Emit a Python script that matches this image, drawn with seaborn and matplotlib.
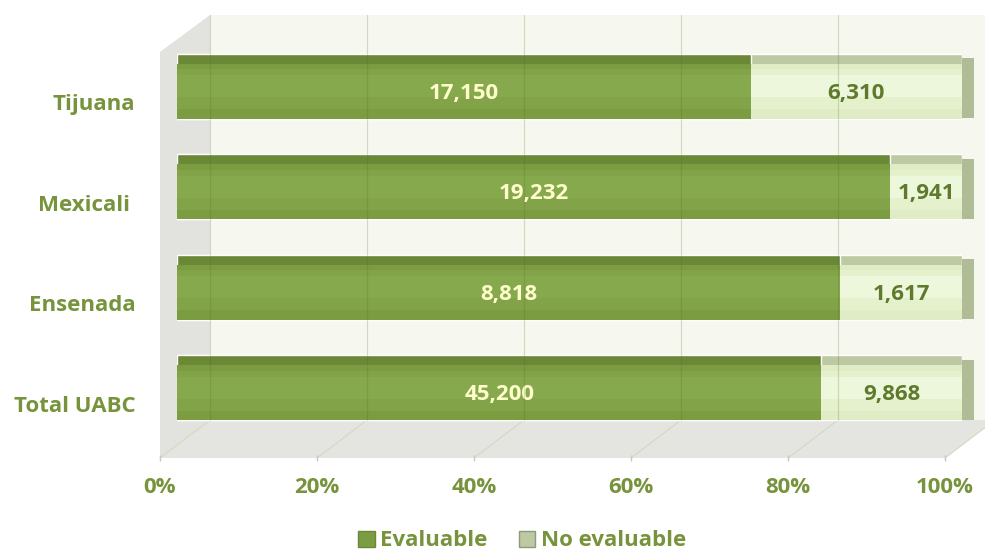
import numpy as np
import pandas as pd
import matplotlib
matplotlib.use("Agg")
import matplotlib.pyplot as plt
from matplotlib.patches import Polygon, Patch
from matplotlib.transforms import ScaledTranslation
import seaborn as sns

# data
campus = ["Tijuana", "Mexicali ", "Ensenada", "Total UABC"]
evaluable = [17150, 19232, 8818, 45200]
no_evaluable = [6310, 1941, 1617, 9868]
ticks = [0, 0.2, 0.4, 0.6, 0.8, 1.0]
tick_labels = ["0%", "20%", "40%", "60%", "80%", "100%"]

df = pd.DataFrame({"campus": campus, "ev": evaluable, "no": no_evaluable})
df["total"] = df["ev"] + df["no"]
df["p_ev"] = df["ev"] / df["total"]
df["p_all"] = 1.0

green = "#77933C"
dark_top = "#6A8836"
front = "#7C9C42"
mid = "#82A348"
shine = "#87A94D"
light_top = "#BCC9A3"
light_front = "#DFECC5"
light_mid = "#E5F1CD"
light_shine = "#EDF7DB"

sns.set_theme(style="white")
plt.rcParams["font.family"] = ["Open Sans", "DejaVu Sans"]
plt.rcParams["font.weight"] = "bold"

W, H = 985, 552
fig = plt.figure(figsize=(W / 100, H / 100), dpi=100)

# background walls / floor in pixel coordinates
bg = fig.add_axes([0, 0, 1, 1])
bg.set_xlim(0, W)
bg.set_ylim(H, 0)
bg.axis("off")
x0, scale = 177, 785  # pixel of 0% and pixels per 100% on the bar plane
back_dx, front_dx = 33, -17
y_top, y_back, y_front = 15, 420, 458
bg.add_patch(Polygon([(x0 + back_dx, y_top), (W + 10, y_top), (W + 10, y_back), (x0 + back_dx, y_back)],
                     closed=True, fc="#F6F8EF", ec="none"))
bg.add_patch(Polygon([(x0 + front_dx, 52), (x0 + back_dx, y_top), (x0 + back_dx, y_back), (x0 + front_dx, y_front)],
                     closed=True, fc="#E2E2DE", ec="none"))
bg.add_patch(Polygon([(x0 + front_dx, y_front), (x0 + front_dx + scale, y_front),
                      (x0 + back_dx + scale, y_back), (x0 + back_dx, y_back)],
                     closed=True, fc="#E4E4E0", ec="none"))
for t in ticks:
    xp = x0 + t * scale
    bg.plot([xp + front_dx, xp + back_dx], [y_front, y_back], color="#D3D9BF", lw=0.8)
    bg.plot([xp + front_dx], [y_front], marker="|", color="#C8C8C8", ms=4)

# bars
ax = fig.add_axes([x0 / W, 1 - 438 / H, scale / W, 402 / H])
ax.patch.set_alpha(0)
sns.barplot(data=df, x="p_all", y="campus", color=light_top, width=0.65,
            orient="h", ax=ax, saturation=1)
sns.barplot(data=df, x="p_ev", y="campus", color=dark_top, width=0.65,
            orient="h", ax=ax, saturation=1)
pos = np.arange(len(campus))
rest = df["p_all"] - df["p_ev"]
layers = [(0.05, 0.55, front, light_front), (0.03, 0.40, mid, light_mid), (0.0, 0.22, shine, light_shine)]
for off, h, c_ev, c_no in layers:
    ax.barh(pos + off, rest, left=df["p_ev"], height=h, color=c_no, lw=0)
    ax.barh(pos + off, df["p_ev"], height=h, color=c_ev, lw=0)
# end cap of each bar, sticking out past 100%
cap = ax.barh(pos + 0.02, 0.015, left=df["p_all"], height=0.6, color="#AFBC96", lw=0)
for b in cap:
    b.set_clip_on(False)

for i, r in df.iterrows():
    ax.text(r["p_ev"] / 2, i + 0.07, f"{r['ev']:,}", ha="center", va="center",
            color="#FFFFCC", fontsize=16, fontweight="bold")
    ax.text((r["p_ev"] + 1) / 2, i + 0.07, f"{r['no']:,}", ha="center", va="center",
            color="#5F7A2C", fontsize=16, fontweight="bold")

ax.set_xlim(0, 1)
ax.set_ylim(3.5, -0.5)
ax.set_xticks(ticks)
ax.set_xticklabels(tick_labels)
ax.set_xlabel("")
ax.set_ylabel("")
for s in ax.spines.values():
    s.set_visible(False)
ax.tick_params(axis="x", length=0, pad=28, labelsize=16, labelcolor=green)
ax.tick_params(axis="y", length=0, pad=30, labelsize=16, labelcolor=green)
for lab in ax.get_xticklabels():
    lab.set_fontweight("bold")
    lab.set_transform(lab.get_transform() + ScaledTranslation(-0.17, 0, fig.dpi_scale_trans))
for lab in ax.get_yticklabels():
    lab.set_fontweight("bold")
    lab.set_transform(lab.get_transform() + ScaledTranslation(0, -0.16, fig.dpi_scale_trans))

# back-wall gridlines, drawn over the bars so they show faintly through them
top = fig.add_axes([0, 0, 1, 1])
top.set_xlim(0, W)
top.set_ylim(H, 0)
top.axis("off")
top.patch.set_alpha(0)
for t in ticks:
    xp = x0 + t * scale + back_dx
    top.plot([xp, xp], [y_top, y_back], color="#4F6E22", lw=0.9, alpha=0.22)

# legend
handles = [Patch(fc=front, ec=dark_top, label="Evaluable"),
           Patch(fc=light_top, ec="#8E9A7A", label="No evaluable")]
leg = fig.legend(handles=handles, loc="center", bbox_to_anchor=(522 / W, 1 - 541 / H), ncol=2,
                 frameon=False, handlelength=0.75, handleheight=0.75, handletextpad=0.25,
                 columnspacing=1.4, prop={"size": 16, "weight": "bold"})
for t in leg.get_texts():
    t.set_color(green)

fig.savefig("out.png", dpi=100)
